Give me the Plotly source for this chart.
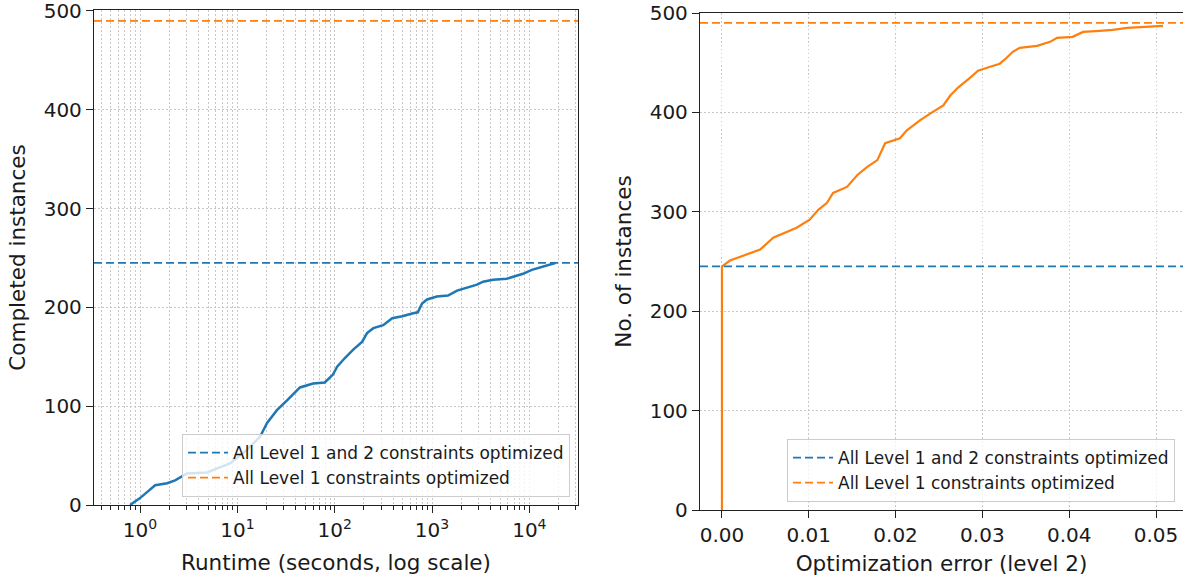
import numpy as np
import plotly.graph_objects as go

# ---------------- data ----------------
# Left panel: cumulative completed instances vs runtime (seconds)
runtime_s = [0.79, 1.0, 1.18, 1.43, 1.9, 2.29, 3.04, 4.9, 6.2, 8.4, 12.6, 17.1, 20.2, 25.5,
             32.4, 44, 60, 79, 96, 106, 128, 154, 191, 215, 250, 315, 390, 495, 640, 715,
             790, 890, 1120, 1460, 1810, 2280, 2900, 3350, 4240, 5860, 6800, 8600, 10600,
             13800, 16400, 18500]
completed = [0, 7, 13, 20, 22, 25, 32, 33, 37, 42, 56, 69, 83, 96,
             106, 119, 123, 124, 132, 140, 149, 157, 165, 174, 179, 182, 189, 191, 194, 195,
             204, 208, 211, 212, 217, 220, 223, 226, 228, 229, 231, 234, 238,
             241, 243, 245]

# Right panel: number of instances vs optimization error (level 2)
opt_error = [0.0, 0.0, 0.00092, 0.0021, 0.0032, 0.0044, 0.0059, 0.0075, 0.0086, 0.0101,
             0.0111, 0.0121, 0.0128, 0.0144, 0.0156, 0.0167, 0.0179, 0.0188, 0.0205, 0.0213,
             0.0228, 0.0242, 0.0255, 0.0263, 0.0272, 0.0286, 0.0295, 0.0309, 0.0320, 0.0328,
             0.0335, 0.0343, 0.0363, 0.0378, 0.0386, 0.0404, 0.0416, 0.0435, 0.0450, 0.0467,
             0.0482, 0.0508]
n_instances = [0, 245, 251, 255, 258, 262, 274, 280, 284, 292,
               302, 309, 319, 325, 337, 345, 352, 369, 374, 382,
               392, 400, 407, 417, 425, 435, 442, 446, 449, 455,
               461, 465, 467, 471, 475, 476, 481, 482, 483, 485,
               486, 487]

ref_names = ["All Level 1 and 2 constraints optimized", "All Level 1 constraints optimized"]
ref_values = [245, 490]

left_xticks = [1, 10, 100, 1000, 10000]
left_xticktext = ["10<sup>0</sup>", "10<sup>1</sup>", "10<sup>2</sup>", "10<sup>3</sup>", "10<sup>4</sup>"]
y_ticks = [0, 100, 200, 300, 400, 500]
right_xticks = [0.0, 0.01, 0.02, 0.03, 0.04, 0.05]
right_xticktext = ["0.00", "0.01", "0.02", "0.03", "0.04", "0.05"]

# ---------------- style ----------------
BLUE = "#1f77b4"
ORANGE = "#ff7f0e"
REF_COLORS = [BLUE, ORANGE]
FONT = "DejaVu Sans"
TXT = "#1a1a1a"
GRID = "#c8c8c8"
GDASH = "1.5px,2.5px"
W, H = 1183, 580

left_log_range = [-0.473, 4.50]
right_x_range = [-0.00253, 0.05311]

minor_vals = [k * 10.0 ** e for e in range(-1, 5) for k in range(2, 10)]

fig = go.Figure()

# left curve
fig.add_trace(go.Scatter(x=runtime_s, y=completed, mode="lines",
                         line=dict(color=BLUE, width=2.5), showlegend=False,
                         xaxis="x", yaxis="y"))
# right curve
fig.add_trace(go.Scatter(x=opt_error, y=n_instances, mode="lines",
                         line=dict(color=ORANGE, width=2.2), showlegend=False,
                         xaxis="x2", yaxis="y2"))

# reference lines (full axis width)
lx = [10 ** left_log_range[0], 10 ** left_log_range[1]]
for name, val, col in zip(ref_names, ref_values, REF_COLORS):
    fig.add_trace(go.Scatter(x=lx, y=[val, val], mode="lines", name=name,
                             line=dict(color=col, width=1.8, dash="8px,4px"),
                             xaxis="x", yaxis="y", legend="legend"))
for name, val, col in zip(ref_names, ref_values, REF_COLORS):
    fig.add_trace(go.Scatter(x=right_x_range, y=[val, val], mode="lines", name=name,
                             line=dict(color=col, width=1.8, dash="8px,4px"),
                             xaxis="x2", yaxis="y2", legend="legend2"))

axis_common = dict(showline=True, linecolor="#222222", linewidth=1.3, automargin=False,
                   ticks="outside", ticklen=7, tickwidth=1.2, tickcolor="#222222",
                   tickfont=dict(family=FONT, size=20, color=TXT), ticklabeloverflow="allow",
                   gridcolor=GRID, griddash=GDASH, gridwidth=1, showgrid=True,
                   zeroline=False, title_font=dict(family=FONT, size=21.5, color=TXT))

legend_common = dict(xanchor="right", yanchor="bottom", itemwidth=40,
                     bgcolor="rgba(255,255,255,0.8)", bordercolor="#cccccc", borderwidth=1,
                     font=dict(family=FONT, size=17, color=TXT))

fig.update_layout(
    width=W, height=H,
    margin=dict(l=0, r=0, t=0, b=0, autoexpand=False),
    paper_bgcolor="white", plot_bgcolor="white",
    font=dict(family=FONT, color=TXT),
    xaxis=dict(axis_common, type="log", range=left_log_range, domain=[94 / W, 578 / W],
               anchor="y", mirror=True, tickmode="array", tickvals=left_xticks,
               ticktext=left_xticktext,
               minor=dict(tickmode="array", tickvals=minor_vals, ticks="outside", ticklen=4,
                          tickwidth=1, tickcolor="#222222", showgrid=True, gridcolor=GRID,
                          griddash=GDASH, gridwidth=1),
               title=dict(text="Runtime (seconds, log scale)", standoff=13)),
    yaxis=dict(axis_common, range=[0, 501], domain=[1 - 505 / H, 1 - 10 / H], anchor="x",
               mirror=True, tickmode="array", tickvals=y_ticks,
               title=dict(text="Completed instances", standoff=12)),
    xaxis2=dict(axis_common, range=right_x_range, domain=[700 / W, 1.0], anchor="y2",
                mirror=True, tickmode="array", tickvals=right_xticks, ticktext=right_xticktext,
                title=dict(text="Optimization error (level 2)", standoff=9)),
    yaxis2=dict(axis_common, range=[0, 500], domain=[1 - 510 / H, 1 - 13 / H], anchor="x2",
                mirror=False, tickmode="array", tickvals=y_ticks,
                title=dict(text="No. of instances", standoff=12)),
    legend=dict(legend_common, x=570 / W, y=1 - 497 / H),
    legend2=dict(legend_common, x=1175 / W, y=1 - 502 / H),
)

fig.write_html("out.html", config={"displayModeBar": False},
               post_script="document.body.style.margin='0';document.body.style.overflow='hidden';")
